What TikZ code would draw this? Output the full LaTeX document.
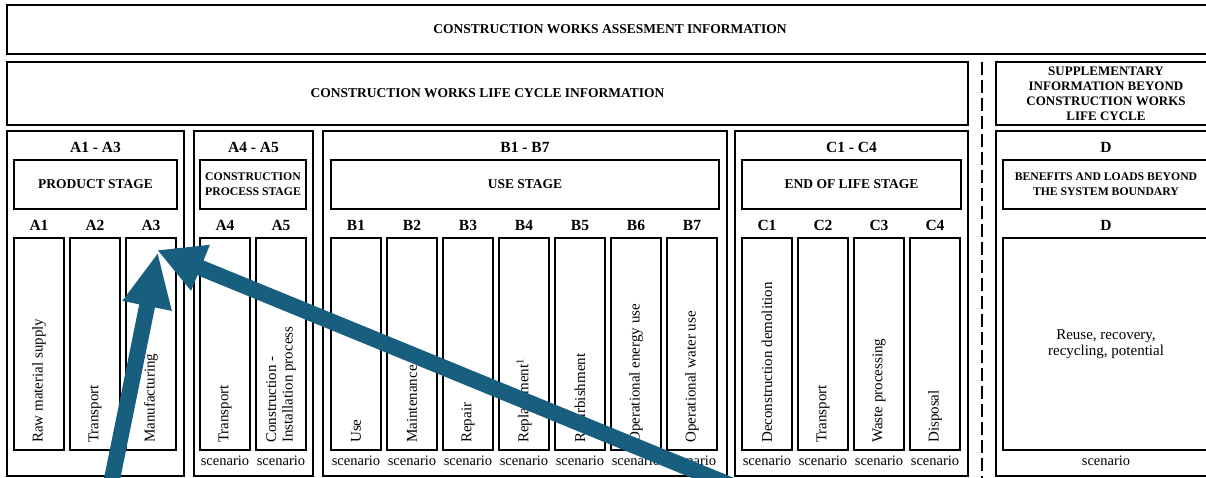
\documentclass[tikz,border=0pt]{standalone}
\usepackage{fontspec}
\setmainfont{Liberation Serif}
\usetikzlibrary{arrows.meta}
\definecolor{arrowblue}{RGB}{24,94,127}
\begin{document}
\begin{tikzpicture}[x=1pt,y=-1pt,
  outerbox/.style={draw, line width=2pt, inner sep=0pt, outer sep=0pt},
  innerbox/.style={draw, line width=1.2pt, inner sep=0pt, outer sep=0pt},
  head/.style={font=\fontsize{13.5}{15}\selectfont\bfseries, inner sep=0pt},
  labelhead/.style={font=\fontsize{15.5}{17}\selectfont\bfseries, inner sep=0pt, anchor=base},
  smallhead/.style={font=\fontsize{11.7}{15}\selectfont\bfseries, align=center, inner sep=0pt},
  body/.style={font=\fontsize{15}{16.5}\selectfont, inner sep=0pt},
  modbox/.style={innerbox, minimum width=50pt, minimum height=212pt},
  vtext/.style={body, rotate=90, anchor=west, align=left},
  scen/.style={font=\fontsize{14.5}{16}\selectfont, inner sep=0pt, anchor=base},
  bigarrow/.style={draw=arrowblue, fill=arrowblue, line width=16pt}
]
\clip (0,0) rectangle (1206,478);
\useasboundingbox (0,0) rectangle (1206,478);

% row 1
\node[outerbox, head, minimum width=1206pt, minimum height=49pt] (info) at (610,29.5) {CONSTRUCTION WORKS ASSESMENT INFORMATION};

% row 2
\node[outerbox, head, minimum width=961pt, minimum height=63pt] (lci) at (487.5,93.5) {CONSTRUCTION WORKS LIFE CYCLE INFORMATION};
\node[outerbox, font=\fontsize{13}{15}\selectfont\bfseries, align=center, minimum width=220pt, minimum height=63pt] (sup) at (1106,93.5) {SUPPLEMENTARY\\INFORMATION BEYOND\\CONSTRUCTION WORKS\\LIFE CYCLE};
\coordinate (dtop) at (982,62);
\coordinate (dbot) at (982,480);
\draw[line width=2pt, dash pattern=on 13pt off 5pt] (dtop) -- (dbot);

% row 3 group boxes
\node[outerbox, minimum width=177pt, minimum height=345pt] (gA) at (95.5,303.5) {};
\node[outerbox, minimum width=119pt, minimum height=345pt] (gA45) at (253.5,303.5) {};
\node[outerbox, minimum width=404pt, minimum height=345pt] (gB) at (525,303.5) {};
\node[outerbox, minimum width=233pt, minimum height=345pt] (gC) at (851.5,303.5) {};
\node[outerbox, minimum width=220pt, minimum height=345pt] (gD) at (1106,303.5) {};

% group headings
\node[labelhead] (hA) at (95.5,152.5) {A1 - A3};
\node[labelhead] (hA45) at (253.5,152.5) {A4 - A5};
\node[labelhead] (hB) at (525,152.5) {B1 - B7};
\node[labelhead] (hC) at (851.5,152.5) {C1 - C4};
\node[labelhead] (hD) at (1106,152.5) {D};

% stage boxes
\node[innerbox, head, minimum width=163pt, minimum height=49pt] (sA) at (95.5,184.5) {PRODUCT STAGE};
\node[innerbox, smallhead, minimum width=106pt, minimum height=49pt] (sA45) at (253,184.5) {CONSTRUCTION\\PROCESS STAGE};
\node[innerbox, head, minimum width=388pt, minimum height=49pt] (sB) at (525,184.5) {USE STAGE};
\node[innerbox, head, minimum width=219pt, minimum height=49pt] (sC) at (851.5,184.5) {END OF LIFE STAGE};
\node[innerbox, smallhead, minimum width=206pt, minimum height=49pt] (sD) at (1106,184.5) {BENEFITS AND LOADS BEYOND\\THE SYSTEM BOUNDARY};

% modules
\foreach \nm/\cx/\txt in {
  A1/39/{Raw material supply},
  A2/95/{Transport},
  A3/151/{Manufacturing},
  A4/225/{Transport},
  A5/281/{Construction -\\Installation process},
  B1/356/{Use},
  B2/412/{Maintenance},
  B3/468/{Repair},
  B4/524/{Replacement\textsuperscript{1}},
  B5/580/{Refurbishment},
  B6/636/{Operational energy use},
  B7/692/{Operational water use},
  C1/767/{Deconstruction demolition},
  C2/823/{Transport},
  C3/879/{Waste processing},
  C4/935/{Disposal}}
{
  \node[modbox] (m\nm) at (\cx,344) {};
  \node[labelhead] (l\nm) at (\cx,230.5) {\nm};
  \node[vtext] (t\nm) at ([yshift=7pt]m\nm.south) {\txt};
}
\foreach \nm in {A4,A5,B1,B2,B3,B4,B5,B6,B7,C1,C2,C3,C4}
{
  \path (m\nm.south) ++(0,15) node[scen] (s\nm) {scenario};
}

% D module
\node[innerbox, body, align=center, minimum width=206pt, minimum height=212pt] (mD) at (1106,344) {Reuse, recovery,\\recycling, potential};
\node[labelhead] (lD) at (1106,230.5) {D};
\path (mD.south) ++(0,15) node[scen] (sD2) {scenario};

% annotation arrows
\coordinate (a1s) at (109,494);
\coordinate (a1t) at (158,252);
\coordinate (a2s) at (735,487);
\coordinate (a2t) at (157,250);
\draw[bigarrow, -{Triangle[length=55pt,width=46pt]}] (a1s) -- (a1t);
\draw[bigarrow, -{Triangle[length=47pt,width=46pt]}] (a2s) -- (a2t);
\end{tikzpicture}
\end{document}
